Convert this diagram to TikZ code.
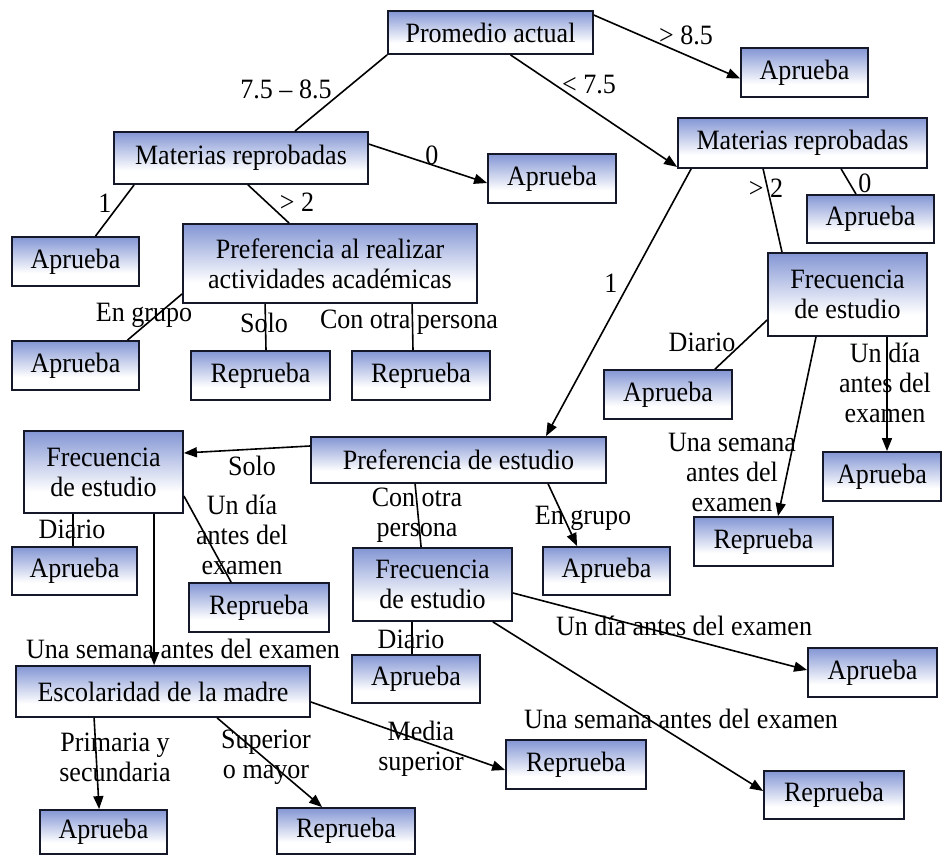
\documentclass[tikz,border=0pt]{standalone}
\usepackage{fontspec}
\setmainfont[FakeStretch=0.93]{Liberation Serif}
\usetikzlibrary{calc,arrows.meta}
\definecolor{bblue}{RGB}{68,96,190}
\definecolor{bblueb}{RGB}{84,114,204}
\definecolor{bdark}{RGB}{20,24,40}
\pgfdeclareverticalshading{bxshade}{100bp}{color(0bp)=(bblueb); color(5bp)=(bblueb); color(24bp)=(white); color(38bp)=(white); color(94bp)=(bblue); color(100bp)=(bblue)}
\tikzset{
  box/.style={draw=bdark, line width=1.8pt, shading=bxshade, inner sep=0pt, align=center, font=\fontsize{28}{30}\selectfont},
  lbl/.style={inner sep=0pt, align=center, font=\fontsize{28}{30}\selectfont},
  conn/.style={draw=black, line width=1.6pt},
  arr/.style={conn, -{Triangle[length=13pt,width=10pt]}}
}
\begin{document}
\begin{tikzpicture}[x=1pt,y=-1pt]
\useasboundingbox (0,0) rectangle (943,856);
% boxes
\node[box, minimum width=205, minimum height=43] (prom) at (490.5,32.5) {Promedio actual};
\node[box, minimum width=127, minimum height=49] (apr1) at (804.5,72.5) {Aprueba};
\node[box, minimum width=254, minimum height=52] (matL) at (241,158) {Materias reprobadas};
\node[box, minimum width=128, minimum height=49] (apr2) at (552,178.5) {Aprueba};
\node[box, minimum width=127, minimum height=49] (apr3) at (75.5,261.5) {Aprueba};
\node[box, minimum width=294, minimum height=79] (prefA) at (330,263.5) {Preferencia al realizar\\actividades académicas};
\node[box, minimum width=127, minimum height=49] (apr4) at (75.5,365.5) {Aprueba};
\node[box, minimum width=139, minimum height=49] (rep1) at (260.5,375.5) {Reprueba};
\node[box, minimum width=138, minimum height=49] (rep2) at (421,375.5) {Reprueba};
\node[box, minimum width=249, minimum height=50] (matR) at (802.5,143) {Materias reprobadas};
\node[box, minimum width=127, minimum height=48] (apr5) at (870.5,219) {Aprueba};
\node[box, minimum width=159, minimum height=83] (frecR) at (847.5,294.5) {Frecuencia\\de estudio};
\node[box, minimum width=128, minimum height=49] (apr6) at (668,394.5) {Aprueba};
\node[box, minimum width=118, minimum height=49] (apr7) at (882,476.5) {Aprueba};
\node[box, minimum width=139, minimum height=49] (rep3) at (763.5,541.5) {Reprueba};
\node[box, minimum width=295, minimum height=46] (prefE) at (458.5,460) {Preferencia de estudio};
\node[box, minimum width=159, minimum height=82] (frecL) at (103.5,472) {Frecuencia\\de estudio};
\node[box, minimum width=125, minimum height=48] (apr8) at (74.5,571) {Aprueba};
\node[box, minimum width=140, minimum height=49] (rep4) at (259,607.5) {Reprueba};
\node[box, minimum width=127, minimum height=48] (apr9) at (606.5,571) {Aprueba};
\node[box, minimum width=159, minimum height=73] (frecM) at (432.5,584.5) {Frecuencia\\de estudio};
\node[box, minimum width=128, minimum height=48] (apr10) at (416,679) {Aprueba};
\node[box, minimum width=129, minimum height=49] (apr11) at (872.5,672.5) {Aprueba};
\node[box, minimum width=140, minimum height=48] (rep5) at (834,795) {Reprueba};
\node[box, minimum width=294, minimum height=51] (esc) at (163,691.5) {Escolaridad de la madre};
\node[box, minimum width=127, minimum height=44] (apr12) at (103.5,832) {Aprueba};
\node[box, minimum width=138, minimum height=46] (rep6) at (346,831) {Reprueba};
\node[box, minimum width=140, minimum height=49] (rep7) at (576,764.5) {Reprueba};
% labels
\node[lbl] (l1) at (286,89) {7.5 -- 8.5};
\node[lbl] (l2) at (686,35) {> 8.5};
\node[lbl] (l3) at (589,85) {< 7.5};
\node[lbl] (l4) at (432,155) {0};
\node[lbl] (l5) at (105,203) {1};
\node[lbl] (l6) at (297,202) {> 2};
\node[lbl] (l7) at (865,183) {0};
\node[lbl] (l8) at (766,188) {> 2};
\node[lbl] (l9) at (611,283) {1};
\node[lbl] (l10) at (144,315) {En grupo};
\node[lbl] (l11) at (264,323) {Solo};
\node[lbl] (l12) at (409,322) {Con otra persona};
\node[lbl] (l13) at (702,342) {Diario};
\node[lbl] (l14) at (885,383) {Un día\\antes del\\examen};
\node[lbl] (l15) at (732,472) {Una semana\\antes del\\examen};
\node[lbl] (l16) at (252,466) {Solo};
\node[lbl] (l17) at (417,515) {Con otra\\persona};
\node[lbl] (l18) at (583,518) {En grupo};
\node[lbl] (l19) at (72,529) {Diario};
\node[lbl] (l20) at (242,535) {Un día\\antes del\\examen};
\node[lbl] (l21) at (183,649) {Una semana antes del examen};
\node[lbl] (l22) at (411,639) {Diario};
\node[lbl] (l23) at (684,626) {Un día antes del examen};
\node[lbl] (l24) at (681,719) {Una semana antes del examen};
\node[lbl] (l25) at (115,757) {Primaria y\\secundaria};
\node[lbl] (l26) at (266,757) {Superior\\o mayor};
\node[lbl] (l27) at (421,749) {Media\\superior};
% connectors
\draw[conn] (prom.south west) -- ($(matL.north)+(54,0)$);
\draw[arr] ($(prom.north east)+(0,5)$) -- ($(apr1.west)+(0,6)$);
\draw[arr] ($(prom.south)+(20,0)$) -- ($(matR.south west)+(0,-2)$);
\draw[arr] ($(matL.north east)+(0,13)$) -- ($(apr2.west)+(0,4.5)$);
\draw[conn] ($(matL.south west)+(21,0)$) -- ($(apr3.north)+(20,0)$);
\draw[conn] ($(matL.south)+(7,0)$) -- ($(prefA.north west)+(107,0)$);
\draw[conn] ($(prefA.south west)+(0,-10)$) -- ($(apr4.north)+(52,0)$);
\draw[conn] ($(prefA.south west)+(83,0)$) -- ($(rep1.north)+(5.5,0)$);
\draw[conn] ($(prefA.south west)+(230,0)$) -- ($(rep2.north)+(-8,0)$);
\draw[conn] ($(matR.south west)+(164,0)$) -- ($(apr5.north)+(-14.5,0)$);
\draw[conn] ($(matR.south west)+(86,0)$) -- ($(frecR.north)+(-65.5,0)$);
\draw[arr] ($(matR.south west)+(14,0)$) -- ($(prefE.north)+(87.5,0)$);
\draw[conn] ($(frecR.west)+(0,25.5)$) -- ($(apr6.north)+(47,0)$);
\draw[arr] ($(frecR.south)+(-31.5,0)$) -- ($(rep3.north)+(14.5,0)$);
\draw[arr] ($(frecR.south)+(39.5,0)$) -- ($(apr7.north)+(5,0)$);
\draw[arr] ($(prefE.west)+(0,-14)$) -- ($(frecL.east)+(0,-19)$);
\draw[conn] ($(prefE.south west)+(105,0)$) -- ($(frecM.north west)+(69,0)$);
\draw[arr] ($(prefE.south west)+(238,0)$) -- ($(apr9.north west)+(35,0)$);
\draw[conn] ($(frecL.south west)+(50,0)$) -- ($(apr8.north west)+(62,0)$);
\draw[conn] ($(frecL.east)+(0,24)$) -- ($(rep4.north west)+(43,0)$);
\draw[arr] ($(frecL.south west)+(131,0)$) -- ($(esc.north west)+(139,0)$);
\draw[conn] ($(frecM.south west)+(60,0)$) -- ($(apr10.north west)+(61,0)$);
\draw[arr] ($(frecM.east)+(0,8.5)$) -- ($(apr11.west)+(0,-2.5)$);
\draw[arr] ($(frecM.south east)+(-20,0)$) -- ($(rep5.west)+(0,-4)$);
\draw[arr] ($(esc.south west)+(79,0)$) -- ($(apr12.north west)+(60,0)$);
\draw[arr] ($(esc.south west)+(202,0)$) -- ($(rep6.north west)+(46,0)$);
\draw[arr] ($(esc.east)+(0,10.5)$) -- ($(rep7.west)+(0,5.5)$);
\end{tikzpicture}
\end{document}
